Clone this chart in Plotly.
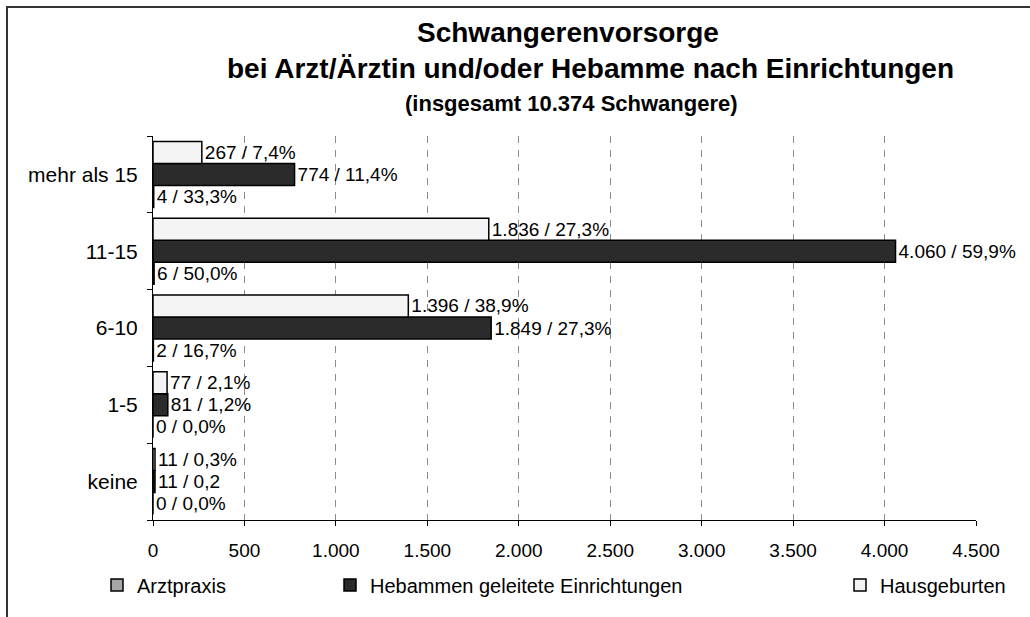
import plotly.graph_objects as go

# ---- data ----
categories = ["keine", "1-5", "6-10", "11-15", "mehr als 15"]

arztpraxis = [0, 0, 2, 6, 4]
arztpraxis_labels = ["0 / 0,0%", "0 / 0,0%", "2 / 16,7%", "6 / 50,0%", "4 / 33,3%"]

hebammen = [11, 81, 1849, 4060, 774]
hebammen_labels = ["11 / 0,2", "81 / 1,2%", "1.849 / 27,3%", "4.060 / 59,9%", "774 / 11,4%"]

hausgeburten = [11, 77, 1396, 1836, 267]
hausgeburten_labels = ["11 / 0,3%", "77 / 2,1%", "1.396 / 38,9%", "1.836 / 27,3%", "267 / 7,4%"]

x_tick_vals = [0, 500, 1000, 1500, 2000, 2500, 3000, 3500, 4000, 4500]
x_tick_text = ["0", "500", "1.000", "1.500", "2.000", "2.500", "3.000", "3.500", "4.000", "4.500"]

title_line1 = "Schwangerenvorsorge"
title_line2 = "bei Arzt/Ärztin und/oder Hebamme nach Einrichtungen"
title_line3 = "(insgesamt 10.374 Schwangere)"

# ---- layout geometry ----
W, H = 1030, 617
L, R, T, B = 153, 54, 136, 97
PW = W - L - R
PH = H - T - B

def px_x(px):
    return (px - L) / PW

def px_y(py):
    return (H - B - py) / PH

FONT = "Liberation Sans, Arial, sans-serif"
LBL = 19

fig = go.Figure()

series = [
    ("Arztpraxis", arztpraxis, arztpraxis_labels, "#a6a6a6", "legend"),
    ("Hebammen geleitete Einrichtungen", hebammen, hebammen_labels, "#2b2b2b", "legend2"),
    ("Hausgeburten", hausgeburten, hausgeburten_labels, "#f4f4f4", "legend3"),
]

for name, vals, labels, color, leg in series:
    fig.add_trace(go.Bar(
        name=name, y=categories, x=vals, orientation="h",
        text=labels, textposition="outside", cliponaxis=False,
        constraintext="none",
        textfont=dict(family=FONT, size=LBL, color="#000000"),
        marker=dict(color=color, line=dict(color="#000000", width=1.5)),
        legend=leg,
    ))

leg_common = dict(orientation="h", xanchor="left", yanchor="middle",
                  font=dict(family=FONT, size=20, color="#000000"),
                  bgcolor="rgba(0,0,0,0)")

fig.update_layout(
    width=W, height=H,
    margin=dict(l=L, r=R, t=T, b=B),
    paper_bgcolor="#ffffff", plot_bgcolor="#ffffff",
    barmode="group", bargap=0.14, bargroupgap=0,
    showlegend=True,
    legend=dict(x=px_x(97), y=px_y(585), **leg_common),
    legend2=dict(x=px_x(330), y=px_y(585), **leg_common),
    legend3=dict(x=px_x(840), y=px_y(585), **leg_common),
    xaxis=dict(
        range=[0, 4500], tickvals=x_tick_vals, ticktext=x_tick_text,
        showgrid=True, gridcolor="#8c8c8c", gridwidth=1, griddash="7px,7px",
        showline=True, linecolor="#000000", linewidth=1,
        ticks="outside", ticklen=5, tickcolor="#000000",
        tickfont=dict(family=FONT, size=LBL, color="#000000"),
        ticklabelstandoff=8, zeroline=False, fixedrange=True, automargin=False,
    ),
    yaxis=dict(
        categoryorder="array", categoryarray=categories,
        showline=True, linecolor="#000000", linewidth=1,
        ticks="outside", ticklen=5, tickcolor="#000000", tickson="boundaries",
        tickfont=dict(family=FONT, size=21, color="#000000"),
        ticklabelstandoff=10, showgrid=False, zeroline=False, automargin=False,
    ),
    annotations=[
        dict(text="<b>" + title_line1 + "</b>", x=px_x(568), xref="paper", y=px_y(33), yref="paper",
             xanchor="center", yanchor="middle", showarrow=False,
             font=dict(family=FONT, size=28, color="#000000")),
        dict(text="<b>" + title_line2 + "</b>", x=px_x(590), xref="paper", y=px_y(68), yref="paper",
             xanchor="center", yanchor="middle", showarrow=False,
             font=dict(family=FONT, size=28, color="#000000")),
        dict(text="<b>" + title_line3 + "</b>", x=px_x(571), xref="paper", y=px_y(103), yref="paper",
             xanchor="center", yanchor="middle", showarrow=False,
             font=dict(family=FONT, size=22, color="#000000")),
    ],
    shapes=[
        dict(type="rect", xref="paper", yref="paper",
             x0=px_x(7), x1=px_x(1050), y0=px_y(640), y1=px_y(7),
             line=dict(color="#333333", width=2), fillcolor="rgba(0,0,0,0)", layer="below"),
    ],
)

fig.write_html("out.html", config={"displayModeBar": False},
               post_script="document.body.style.margin='0';")
